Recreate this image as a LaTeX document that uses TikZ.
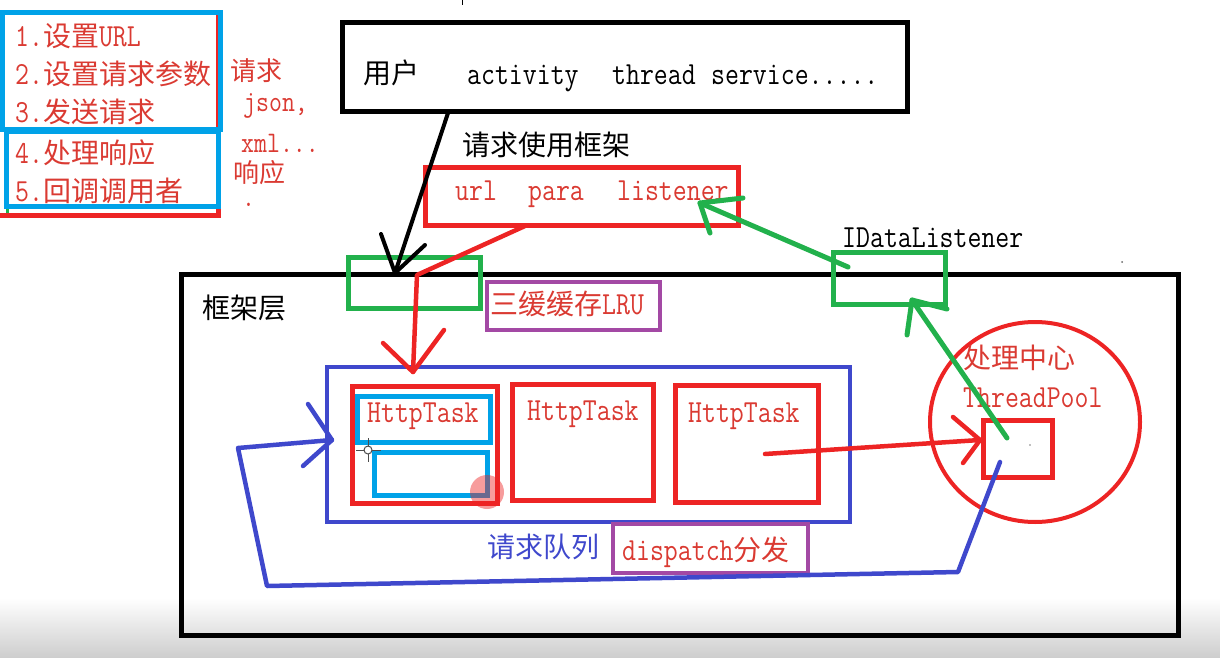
\documentclass[tikz,border=0pt]{standalone}
\usepackage{fontspec}
\setmainfont{Latin Modern Mono}[Scale=1.15, FakeStretch=0.84]
\newfontfamily\cjk{Noto Sans CJK SC}
\usetikzlibrary{shapes.geometric}
\definecolor{pred}{RGB}{237,36,36}
\definecolor{tred}{RGB}{218,58,50}
\definecolor{pblue}{RGB}{63,72,204}
\definecolor{lblue}{RGB}{0,162,232}
\definecolor{pgreen}{RGB}{34,177,76}
\definecolor{ppurple}{RGB}{163,73,164}
\definecolor{shadegray}{RGB}{205,205,205}
\newcommand\zh[1]{{\cjk #1}}
\newcommand\fz{\fontsize{28}{30}\selectfont}
\newcommand\fs{\fontsize{26}{28}\selectfont}
\tikzset{
  txt/.style={anchor=base west, inner sep=0pt, font=\fz},
  stxt/.style={anchor=base west, inner sep=0pt, font=\fs},
  boxshape/.style={rectangle, inner sep=0pt, outer sep=0pt},
  redbox/.style={boxshape, draw=pred, line width=5pt},
  bluebox/.style={boxshape, draw=pblue, line width=4pt},
  lbluebox/.style={boxshape, draw=lblue, line width=5pt},
  greenbox/.style={boxshape, draw=pgreen, line width=5pt},
  purplebox/.style={boxshape, draw=ppurple, line width=4pt},
  blackbox/.style={boxshape, draw=black, line width=5pt},
  redline/.style={draw=pred, line width=4.5pt, line cap=round, line join=round},
  blueline/.style={draw=pblue, line width=4.5pt, line cap=round, line join=round},
  greenline/.style={draw=pgreen, line width=5pt, line cap=round, line join=round},
  blackline/.style={draw=black, line width=4pt, line cap=round, line join=round},
}
\begin{document}
\begin{tikzpicture}[x=1pt,y=-1pt]
\useasboundingbox (0,0) rectangle (1220,658);
% bottom fade of the screenshot
\shade[top color=white, bottom color=shadegray] (0,598) rectangle (1220,658);
\draw[black, line width=1pt] (462,0) -- (462,5);

% ---------- left list ----------
\draw[pred, line width=5pt] (218,12) -- (218,215) -- (-5,215);
\draw[pgreen, line width=3pt] (7,133) -- (7,213);
\node[lbluebox, minimum width=218pt, minimum height=117pt] (list1) at (111,71.5) {};
\node[lbluebox, minimum width=212pt, minimum height=74pt] (list2) at (112,169) {};
\node[txt, text=tred] (l1) at (15,47) {1.\zh{设置}URL};
\node[txt, text=tred] (l2) at (15,85) {2.\zh{设置请求参数}};
\node[txt, text=tred] (l3) at (15,123) {3.\zh{发送请求}};
\node[txt, text=tred] (l4) at (15,163) {4.\zh{处理响应}};
\node[txt, text=tred] (l5) at (15,201) {5.\zh{回调调用者}};
\node[stxt, text=tred] (r1) at (230,81) {\zh{请求}};
\node[stxt, text=tred] (r2) at (243,112) {json,};
\node[stxt, text=tred] (r3) at (241,152) {xml...};
\node[stxt, text=tred] (r4) at (233,182) {\zh{响应}};
\node[stxt, text=tred] (r5) at (242,206) {.};

% ---------- top ----------
\node[blackbox, minimum width=565pt, minimum height=89pt] (user) at (624.5,67.5) {};
\node[txt] (u1) at (363,84) {\zh{用户}};
\node[txt] (u2) at (467,85) {activity};
\node[txt] (u3) at (612,85) {thread};
\node[txt] (u4) at (711,85) {service.....};
\node[txt] (fwuse) at (462,155) {\zh{请求使用框架}};
\node[redbox, minimum width=313pt, minimum height=58pt] (req) at (581.5,196) {};
\node[txt, text=tred] (p1) at (455,200) {url};
\node[txt, text=tred] (p2) at (528,200) {para};
\node[txt, text=tred] (p3) at (617,200) {listener};

% ---------- framework layer ----------
\node[blackbox, minimum width=997pt, minimum height=361pt] (frame) at (679.5,454.5) {};
\node[txt] (fwl) at (202,318) {\zh{框架层}};
\node[greenbox, minimum width=132pt, minimum height=51pt] (cache) at (414,282.5) {};
\node[purplebox, minimum width=173pt, minimum height=48pt] (lru) at (573.5,306) {};
\node[txt, text=tred] (lrut) at (490,314) {\zh{三缓缓存}LRU};
\node[txt] (idl) at (842,247) {IDataListener};
\node[greenbox, minimum width=112pt, minimum height=52pt] (lis) at (889,278) {};

\node[bluebox, minimum width=523pt, minimum height=155pt] (queue) at (588.5,444.5) {};
\node[redbox, minimum width=145pt, minimum height=117pt] (task1) at (424.5,444.5) {};
\node[lbluebox, minimum width=133pt, minimum height=46pt] (task1a) at (423.5,419) {};
\node[lbluebox, minimum width=113pt, minimum height=43pt] (task1b) at (430.5,473.5) {};
\node[redbox, minimum width=141pt, minimum height=116pt] (task2) at (582.5,442) {};
\node[redbox, minimum width=143pt, minimum height=117pt] (task3) at (746.5,443.5) {};
\node[txt, text=tred] (t1) at (367,422) {HttpTask};
\node[txt, text=tred] (t2) at (527,420) {HttpTask};
\node[txt, text=tred] (t3) at (688,422) {HttpTask};
\node[txt, text=pblue] (qt) at (487,557) {\zh{请求队列}};
\node[purplebox, minimum width=195pt, minimum height=49pt] (disp) at (710.5,548.5) {};
\node[txt, text=tred] (dt) at (622,560) {dispatch\zh{分发}};

\node[ellipse, draw=pred, line width=4pt, minimum width=210pt, minimum height=200pt, inner sep=0pt] (pool) at (1035,422) {};
\node[txt, text=tred] (c1) at (963,368) {\zh{处理中心}};
\node[txt, text=tred] (c2) at (963,407) {ThreadPool};
\node[redbox, minimum width=69pt, minimum height=57pt] (core) at (1017.5,448.5) {};

% ---------- screen artefacts ----------
\fill[pred, opacity=0.45] (487,492) circle (17);
\draw[black!70, line width=1pt] (356,450) -- (381,450) (368,438) -- (368,462);
\draw[black!70, line width=1pt, fill=white] (368,450) circle (4);
\fill[black!60] (1122,262) circle (1);
\fill[black!50] (1030,445) circle (0.8);

% ---------- connectors ----------
% user -> cache (black)
\coordinate (bk0) at (448,113);
\coordinate (bk1) at (395,273);
\coordinate (bkh1) at (381,234);
\coordinate (bkh2) at (425,245);
\draw[blackline] (bk0) -- (bk1);
\draw[blackline] (bkh1) -- (bk1) -- (bkh2);

% request -> queue (red)
\coordinate (rd0) at (525,226);
\coordinate (rd1) at (417,275);
\coordinate (rd2) at (413,372);
\coordinate (rdh1) at (383,343);
\coordinate (rdh2) at (444,330);
\draw[redline] (rd0) -- (rd1) -- (rd2);
\draw[redline] (rdh1) -- (rd2) -- (rdh2);

% task3 -> core (red)
\coordinate (rx0) at (765,454);
\coordinate (rx1) at (980,440);
\coordinate (rxh1) at (953,417);
\coordinate (rxh2) at (963,463);
\draw[redline] (rx0) -- (rx1);
\draw[redline] (rxh1) -- (rx1) -- (rxh2);

% listener box -> request (green)
\coordinate (g0) at (848,267);
\coordinate (g1) at (700,203);
\coordinate (gh1) at (743,198);
\coordinate (gh2) at (710,233);
\draw[greenline] (g0) -- (g1);
\draw[greenline] (gh1) -- (g1) -- (gh2);

% core -> listener box (green)
\coordinate (gg0) at (1007,438);
\coordinate (gg1) at (912,300);
\coordinate (ggh1) at (907,335);
\coordinate (ggh2) at (947,309);
\draw[greenline] (gg0) -- (gg1);
\draw[greenline] (ggh1) -- (gg1) -- (ggh2);

% core -> queue loop (blue)
\coordinate (b0) at (1000,462);
\coordinate (b1) at (958,572);
\coordinate (b2) at (267,586);
\coordinate (b3) at (238,448);
\coordinate (b4) at (332,440);
\coordinate (bh1) at (308,404);
\coordinate (bh2) at (303,466);
\draw[blueline] (b0) -- (b1) -- (b2) -- (b3) -- (b4);
\draw[blueline] (bh1) -- (b4) -- (bh2);
\end{tikzpicture}
\end{document}
